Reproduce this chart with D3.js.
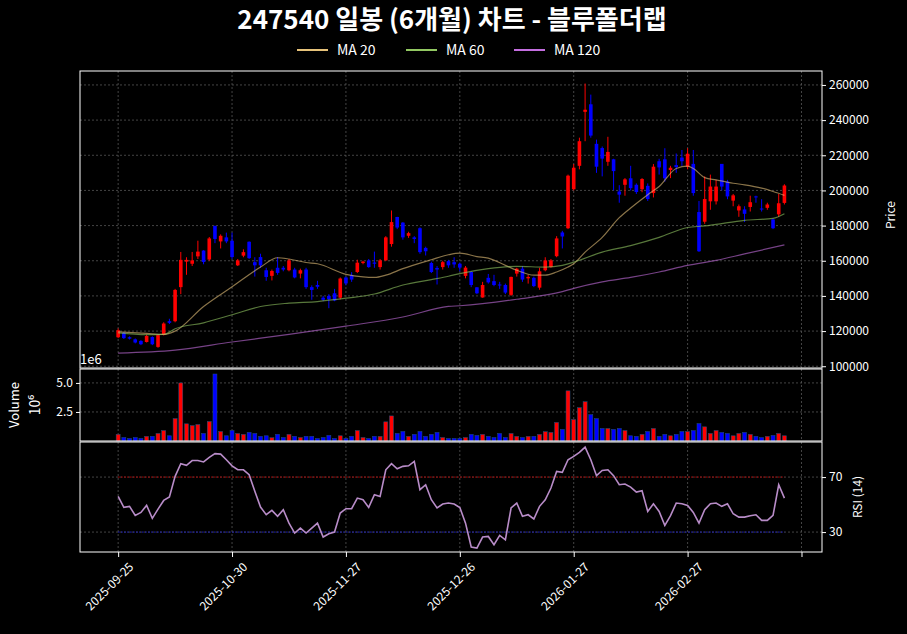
<!DOCTYPE html>
<html><head><meta charset="utf-8">
<script src="https://cdn.jsdelivr.net/npm/d3@7"></script>
<style>
body{margin:0;background:#000;}
text{font-family:"Noto Sans CJK KR","Noto Sans",sans-serif;fill:#fff;}
</style></head>
<body><svg id="chart" width="907" height="634"></svg>
<script>
// candles (thousands of won)
var opens = [116.5,119,116.5,115.3,114.4,113.8,116.6,111,117.8,125.6,125.6,145,159.5,158.3,162.5,165.8,160.7,179.8,171,173.3,
  171.4,157.4,162.9,170.8,159.2,162.1,154.6,151.4,156,156,154.6,155,152.7,155,145,146.2,139,140,141.5,139,
  150.5,151.8,153.6,158.7,160.2,159,156.4,160.2,169.5,184.9,181.7,174.2,173.3,178.5,167.3,158.7,155.9,156.4,159.8,159.2,
  158.3,151.4,153.6,144.9,139.1,150.3,148.4,146.5,146.2,140.6,152.7,155.5,150,150.3,144.7,154.6,156.4,162.6,176.1,178.5,
  200.7,214,244.7,249,226.5,224.1,216.3,217.7,199.4,203.2,206.9,203.2,200.7,202.6,198.5,216.6,217.7,211.6,214.4,218.7,
  213.5,215.1,187.7,182.2,193.8,193.8,215.1,205,194.2,188.6,189.2,190.6,196.6,189.7,190.1,183.5,186.4,192.9];
var closes = [120.5,116,115.7,113.5,112.5,117.2,112.5,117.7,124.3,124.7,143.4,160.5,160.5,160.2,165.2,159.3,172.7,172.4,174.2,171,
  162.1,160.2,164.9,161.5,157.4,157.4,150.8,154.2,153.1,155,160.2,150.5,154.6,145,143.4,145.2,137.8,138.1,137.4,149.9,
  147.1,149.3,158.9,159.5,156.4,158.3,160.2,173.3,182,178.9,173.3,175.7,172.4,164.9,165.4,153.6,155,159.2,157.4,157.9,
  156.1,156.1,146.2,141.5,146.2,147.7,146.2,146.2,141.9,150.8,155.5,149.3,150.8,145.6,154,160.2,160.2,172.7,173.8,208.4,
  212.9,228,245.9,231.2,213.5,218.1,221.9,211,197.6,206.3,201.3,199.1,206.5,195.1,213.5,213.1,206.9,212.9,213.3,216.6,
  220.9,198.5,165.4,195.1,202.2,202.2,202.2,196.6,197.2,191,186.7,193.3,196.1,189.2,192,178.5,192.7,202.8];
var highs = [121.5,119.5,117,115.8,114.8,118,117,118,125,127,144,165,162,165,171.4,166,173.5,180,175,176,
  176,161,166.5,171,162,164,156,155,162.1,157,161,156,155.5,156,146,148.6,140,141,144,150.5,
  151,153.5,160.6,160,161,165.2,161,174,188.6,185,182,176.5,174,179,168,159.5,157,160,160.5,162,
  159,157,154,145,148,152.5,152,148,147,151,156,157,152,151,156,162,161,174,177,209,
  215,230,260.8,254.5,228.9,225,230.5,218,203,207,214,204,207,204,215,218,224,214,221,223,
  224,223,194,208,209,206,215,206,198,192,191,197,197,195,193,184,198,203.5];
var lows = [116,115.5,115.2,113,112,113.5,112,110.5,117.5,124,125,141,152,157,161,158,160,170,167,170,
  161,157,162,161,151,156,148.6,148.8,152,154,154,150,150,144,137.8,144,137,133,137,138,
  146,148,153,158,156,156,155,160,168,178,172,173,170,164,163,153,146.5,155,156,156,
  154,150,145,141,139,147,145.5,144,141,140,151,148,147,145,143.5,154,156,162,167,178,
  200,212,228,230,210,208,214,200,193,197,200,198,199,194,196,209,205,207,210,214,
  212,197,165,181,189,192,200,195,191,185,182,188,193,188,189,178,185,192];
// volume in millions
var volumes = [0.57,0.3,0.22,0.3,0.22,0.4,0.4,0.65,0.9,0.45,1.93,5.0,1.48,1.33,1.42,0.65,1.68,5.77,0.82,0.45,
  0.9,0.65,0.57,0.74,0.65,0.4,0.45,0.28,0.57,0.3,0.57,0.4,0.3,0.4,0.4,0.22,0.3,0.48,0.22,0.45,
  0.22,0.4,0.9,0.3,0.22,0.4,0.4,1.65,2.16,0.65,0.82,0.4,0.57,0.82,0.4,0.57,0.74,0.3,0.22,0.22,
  0.22,0.3,0.57,0.48,0.57,0.4,0.3,0.65,0.3,0.65,0.4,0.3,0.4,0.4,0.57,0.8,0.74,1.6,1.0,4.32,
  1.85,2.87,3.38,2.27,1.93,1.08,1.08,1.0,1.08,0.9,0.45,0.4,0.57,0.82,1.08,0.4,0.57,0.45,0.57,0.82,
  0.82,0.9,1.5,1.22,0.65,0.9,0.74,0.65,0.45,0.65,0.74,0.57,0.4,0.3,0.4,0.48,0.65,0.45];
var rsi = [55.9,48,48.7,42.1,44.3,49.4,40,46.7,53,55.5,70.5,79.7,78.5,82,82,81,84.3,87,86.7,82.6,
  78.2,75.3,75.3,71.7,59.6,48.2,42.6,45.8,41.4,46.2,36.5,29.3,32.9,29.3,32.9,36.5,26.4,28.8,30,43.8,
  47,47,54.7,53.5,47.9,57.2,55.9,75.3,79.7,76,77.8,78.2,81.4,60.8,64.4,53.5,47.5,50.4,51.1,50.4,
  47.9,36.5,19.1,18.4,26.4,26.8,20.8,27.6,24.4,47.5,51.1,41.4,42.6,39.5,48.7,53.5,62,74.1,73.4,82.6,
  85,87.9,91.8,82.6,71,74.8,75.3,71,64.4,64.9,62.7,59.1,60,45,50.6,45,34.8,41.9,51.1,50.6,
  49.4,44.3,36.5,46.2,50.6,51.1,48.7,50.6,43.3,40.9,40.9,41.9,42.6,38.5,38.5,42.1,64.4,54.7];
// moving averages read at sample days
var ma20 = [[0,119.6],[5,118.7],[8,118.1],[10,120],[15,134],[20,145.2],[25,156.4],[28,161.7],[30,161],[33,159],[35,158.3],
  [40,152.3],[43,150.8],[45,150.5],[47,151.8],[50,155.5],[55,160.6],[58,163.4],[60,164.3],[63,162.4],[65,161.5],[68,157.4],
  [70,154.6],[73,151.8],[75,151.8],[77,153.6],[79,156.4],[80,158.3],[82,164.9],[85,173.3],[88,184.5],[90,190],[93,197.6],
  [95,202.2],[98,212.5],[100,213.8],[101,212.5],[103,207.3],[105,206],[108,204.1],[110,203.2],[113,201.3],[115,199.4],[117,197.2]];
var ma60 = [[0,119],[5,118],[8,118.1],[10,121.3],[15,124.7],[20,129.3],[25,134],[30,135.9],[35,136.8],[40,138.7],[45,141.1],
  [50,146.2],[55,149.3],[58,151.2],[60,152.7],[65,155.5],[70,156.8],[75,156.4],[78,157.4],[80,159.2],[85,164.9],[90,168.6],
  [95,173.3],[100,178.9],[103,179.8],[105,180.7],[110,183],[115,184.1],[117,186.7]];
var ma120 = [[0,107.5],[10,109.2],[20,113.8],[30,118.1],[40,122.8],[50,128],[58,134],[60,134.4],[70,138.1],[78,142.4],
  [80,144.3],[85,148],[90,150.5],[95,153.6],[100,157.4],[105,160.2],[110,163.9],[117,169]];
var tickIdx = [0,20,40,60,80,100,120];
var tickLabels = ["2025-09-25","2025-10-30","2025-11-27","2025-12-26","2026-01-27","2026-02-27",""];
var priceTicks = [100000,120000,140000,160000,180000,200000,220000,240000,260000];

var svg = d3.select("#chart");
var L = 80, R = 822;
var UP = "#ff0000", DN = "#0000ff";
var x = d3.scaleLinear().domain([-6.7, 123.6]).range([L, R]);
var yP = d3.scaleLinear().domain([99000, 268500]).range([368, 70]);
var yV = d3.scaleLinear().domain([0, 6.2]).range([441, 369]);
var yR = d3.scaleLinear().domain([15.5, 95.5]).range([552, 442]);
var n = closes.length;
var col = function (i) { return closes[i] >= opens[i] ? UP : DN; };
var maColors = ["#e6c27a", "#92c862", "#c46ee0"];

svg.append("text").attr("x", 452).attr("y", 29).attr("text-anchor", "middle")
  .style("font-size", "26px").style("font-weight", "bold").text("247540 일봉 (6개월) 차트 - 블루폴더랩");

var legend = ["MA 20", "MA 60", "MA 120"];
var lx = [297, 406, 514];
legend.forEach(function (d, i) {
  svg.append("line").attr("x1", lx[i]).attr("x2", lx[i] + 31).attr("y1", 50).attr("y2", 50)
    .attr("stroke", maColors[i]).attr("stroke-width", 2);
  svg.append("text").attr("x", lx[i] + 40).attr("y", 55).style("font-size", "14px").text(d);
});

function grid(yScale, ticks, top, bot) {
  tickIdx.forEach(function (t) {
    svg.append("line").attr("x1", x(t)).attr("x2", x(t)).attr("y1", top).attr("y2", bot)
      .attr("stroke", "#555").attr("stroke-dasharray", "2,2").attr("stroke-width", 0.8);
  });
  ticks.forEach(function (t) {
    svg.append("line").attr("x1", L).attr("x2", R).attr("y1", yScale(t)).attr("y2", yScale(t))
      .attr("stroke", "#555").attr("stroke-dasharray", "2,2").attr("stroke-width", 0.8);
  });
}
grid(yP, priceTicks, 71, 368);
grid(yV, [2.5, 5.0], 369, 441);
grid(yR, [30, 70], 442, 552);

// price panel
var g = svg.append("g");
d3.range(n).forEach(function (i) {
  g.append("line").attr("x1", x(i)).attr("x2", x(i)).attr("y1", yP(highs[i] * 1000)).attr("y2", yP(lows[i] * 1000))
    .attr("stroke", col(i)).attr("stroke-width", 1);
  var top = Math.max(opens[i], closes[i]) * 1000, bot = Math.min(opens[i], closes[i]) * 1000;
  g.append("rect").attr("x", x(i) - 1.8).attr("width", 3.6).attr("y", yP(top))
    .attr("height", Math.max(1, yP(bot) - yP(top))).attr("fill", col(i));
});
var line = d3.line().x(function (d) { return x(d[0]); }).y(function (d) { return yP(d[1] * 1000); }).curve(d3.curveMonotoneX);
[ma20, ma60, ma120].forEach(function (m, i) {
  g.append("path").attr("d", line(m)).attr("fill", "none").attr("stroke", maColors[i])
    .attr("stroke-width", 1.2).attr("opacity", 0.6);
});
svg.append("g").attr("transform", "translate(" + R + ",0)")
  .call(d3.axisRight(yP).tickValues(priceTicks).tickFormat(d3.format("d")).tickSize(4))
  .call(function (a) { a.selectAll("text").style("font-size", "12px"); a.selectAll("line").attr("stroke", "#fff"); a.select(".domain").remove(); });
svg.append("text").attr("x", 80).attr("y", 364).style("font-size", "13px").text("1e6");
svg.append("text").attr("transform", "translate(895,215) rotate(-90)").attr("text-anchor", "middle")
  .style("font-size", "12px").text("Price");

// volume panel
d3.range(n).forEach(function (i) {
  svg.append("rect").attr("x", x(i) - 2).attr("width", 4).attr("y", yV(volumes[i]))
    .attr("height", yV(0) - yV(volumes[i])).attr("fill", col(i)).attr("stroke", "#1f4f7f").attr("stroke-width", 0.5);
});
svg.append("g").attr("transform", "translate(" + L + ",0)")
  .call(d3.axisLeft(yV).tickValues([2.5, 5.0]).tickFormat(d3.format(".1f")).tickSize(4))
  .call(function (a) { a.selectAll("text").style("font-size", "12px"); a.selectAll("line").attr("stroke", "#fff"); a.select(".domain").remove(); });
svg.append("text").attr("transform", "translate(19,405) rotate(-90)").attr("text-anchor", "middle")
  .style("font-size", "13px").text("Volume");
svg.append("text").attr("transform", "translate(40,405) rotate(-90)").attr("text-anchor", "middle")
  .style("font-size", "14px").text("10⁶");

// rsi panel
[[70, "#c00000"], [30, "#2020d0"]].forEach(function (h) {
  svg.append("line").attr("x1", x(0)).attr("x2", x(n - 1)).attr("y1", yR(h[0])).attr("y2", yR(h[0]))
    .attr("stroke", h[1]).attr("stroke-dasharray", "1.5,1.5").attr("stroke-width", 1);
});
svg.append("path").datum(rsi)
  .attr("d", d3.line().x(function (d, i) { return x(i); }).y(function (d) { return yR(d); }))
  .attr("fill", "none").attr("stroke", "#b88cc8").attr("stroke-width", 1.6);
svg.append("g").attr("transform", "translate(" + R + ",0)")
  .call(d3.axisRight(yR).tickValues([30, 70]).tickSize(4))
  .call(function (a) { a.selectAll("text").style("font-size", "12px"); a.selectAll("line").attr("stroke", "#fff"); a.select(".domain").remove(); });
svg.append("text").attr("transform", "translate(862,497) rotate(-90)").attr("text-anchor", "middle")
  .style("font-size", "12px").text("RSI (14)");

// x axis
var xa = svg.append("g").attr("transform", "translate(0,552)")
  .call(d3.axisBottom(x).tickValues(tickIdx).tickFormat(function (d, i) { return tickLabels[i]; }).tickSize(5));
xa.select(".domain").remove();
xa.selectAll("line").attr("stroke", "#fff");
xa.selectAll("text").style("font-size", "12px").attr("text-anchor", "end")
  .attr("transform", "translate(4,4) rotate(-45)");

// frames
[[71, 368], [369, 441], [442, 552]].forEach(function (p) {
  svg.append("rect").attr("x", L).attr("y", p[0]).attr("width", R - L).attr("height", p[1] - p[0])
    .attr("fill", "none").attr("stroke", "#fff").attr("stroke-width", 1);
});
</script></body></html>
